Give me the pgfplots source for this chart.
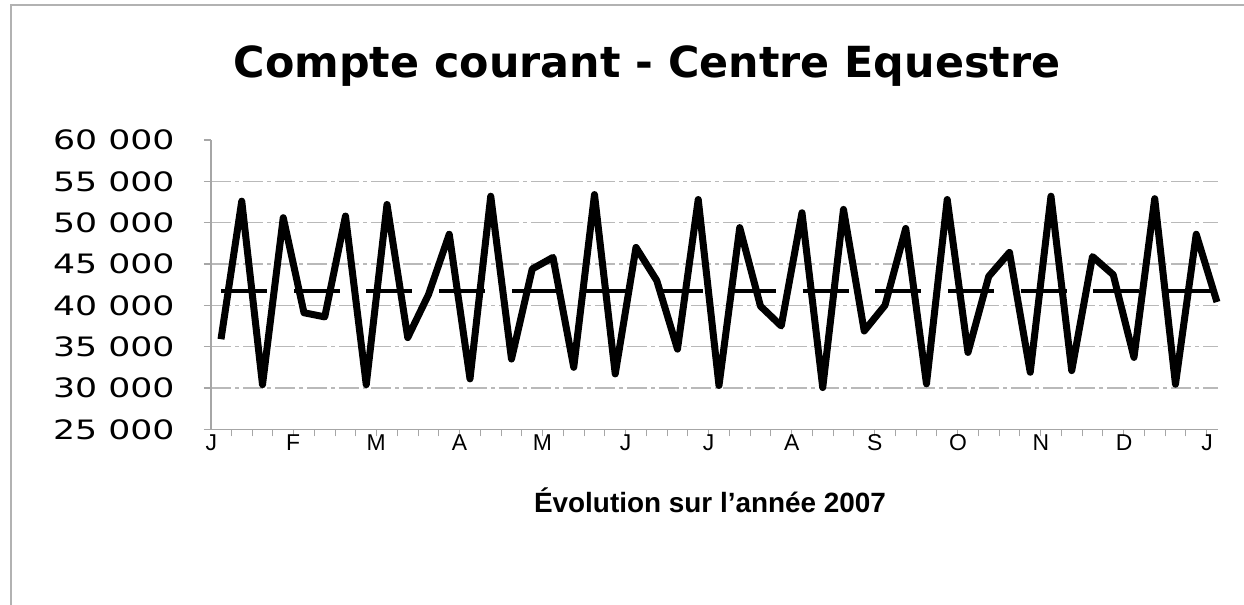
\documentclass[border=0pt]{standalone}
\usepackage{pgfplots}
\pgfplotsset{compat=1.18}
\usepackage{fontspec}
\setmainfont{Liberation Sans}
\newfontfamily\titlefont{DejaVu Sans}
\newfontfamily\tickfont[FakeStretch=1.3]{DejaVu Sans}

\pgfplotstableread{
x y
0 35900
1 52600
2 30400
3 50600
4 39100
5 38600
6 50800
7 30400
8 52200
9 36100
10 41300
11 48600
12 31100
13 53200
14 33500
15 44400
16 45800
17 32500
18 53400
19 31700
20 47000
21 43000
22 34700
23 52800
24 30300
25 49400
26 39900
27 37500
28 51200
29 30050
30 51600
31 36900
32 40000
33 49300
34 30500
35 52800
36 34300
37 43500
38 46400
39 31900
40 53200
41 32100
42 45900
43 43700
44 33700
45 52900
46 30450
47 48600
48 40400
}\compte

\begin{document}
\begin{tikzpicture}
\path[use as bounding box] (0,0) rectangle (622bp,-302.5bp);
\fill[white] (0,0) rectangle (622bp,-302.5bp);
\draw[gray!60, line width=0.6bp] (5.5bp,-302.5bp) -- (5.5bp,-2.5bp) -- (622bp,-2.5bp);
\node[anchor=base, inner sep=0pt, font=\titlefont\bfseries\fontsize{21.5}{24}\selectfont] at (323.5bp,-38.5bp) {Compte courant - Centre Equestre};
\node[anchor=base, inner sep=0pt, font=\bfseries\fontsize{14}{16}\selectfont] at (355bp,-256bp) {Évolution sur l’année 2007};
\begin{axis}[
  at={(105.5bp,-214.65bp)}, anchor=south west,
  scale only axis, width=503.5bp, height=144.65bp,
  xmin=-0.482, xmax=48.05, ymin=25000, ymax=60000,
  axis lines*=left,
  axis line style={gray!70, line width=0.6bp},
  clip=false,
  scaled y ticks=false,
  tick align=outside,
  major tick length=3.5bp,
  xtick={-0.5,0.5,...,47.5},
  xticklabels={},
  extra x ticks={-0.47,3.48,7.48,11.49,15.49,19.50,23.50,27.51,31.51,35.52,39.52,43.53,47.53},
  extra x tick labels={J,F,M,A,M,J,J,A,S,O,N,D,J},
  extra x tick style={major tick length=0pt, tick style={draw=none},
    xticklabel style={font=\fontsize{11.5}{12}\selectfont, anchor=base, inner sep=0pt, yshift=-10.8bp}},
  ytick={30000,35000,40000,45000,50000,55000},
  yticklabels={30 000,35 000,40 000,45 000,50 000,55 000},
  extra y ticks={25000,60000},
  extra y tick labels={25 000,60 000},
  extra y tick style={ymajorgrids=false},
  ymajorgrids,
  major grid style={gray!55, line width=0.6bp, dash pattern=on 10bp off 2bp on 2bp off 2bp},
  yticklabel style={font=\tickfont\fontsize{13.4}{14}\selectfont, anchor=east, inner sep=0pt, xshift=-14.5bp},
  tick style={gray!70, line width=0.6bp},
]
\addplot[black, line width=2bp, dash pattern=on 23bp off 13.35bp, forget plot] coordinates {(0,41750) (48,41750)};
\addplot[black, line width=3.5bp, line join=round] table[x=x, y=y] {\compte};
\end{axis}
\end{tikzpicture}
\end{document}
